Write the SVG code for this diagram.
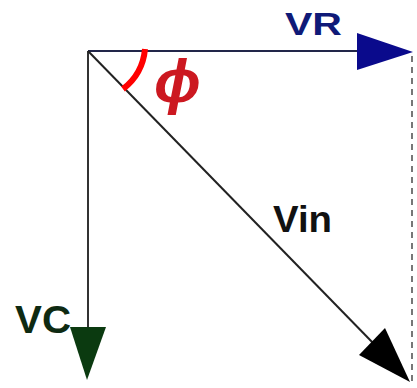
<svg xmlns="http://www.w3.org/2000/svg" width="417" height="388" viewBox="0 0 417 388">
<style>
.lbl{font-family:"Liberation Sans",Arial,sans-serif;font-weight:bold}
</style>
<rect width="417" height="388" fill="#ffffff"/>
<g id="connectors">
<line id="vr-line" x1="88" y1="51" x2="360" y2="51" stroke="#22264a" stroke-width="2"/>
<polygon id="vr-head" points="357,33 413,52 357,70" fill="#0a0a8c"/>
<line id="vc-line" x1="88" y1="51" x2="88" y2="330" stroke="#333" stroke-width="2"/>
<polygon id="vc-head" points="70,327 106,327 87,380" fill="#0b3a10"/>
<line id="vin-line" x1="88" y1="51" x2="375" y2="345" stroke="#222" stroke-width="2"/>
<polygon id="vin-head" points="385,328 359,355 410,382" fill="#000"/>
<line id="dash" x1="412" y1="56" x2="412" y2="386" stroke="#555" stroke-width="1.6" stroke-dasharray="6,5"/>
</g>
<g id="angle">
<path d="M145,49 A57,57 0 0 1 123,89" fill="none" stroke="#ff0000" stroke-width="6"/>
<text x="154" y="102" font-family="'Liberation Sans',Arial,sans-serif" font-style="italic" font-weight="bold" font-size="62" fill="#cc1820">ϕ</text>
</g>
<g id="VR"><text class="lbl" x="285" y="35" font-size="32" fill="#0f1a78" textLength="57" lengthAdjust="spacingAndGlyphs">VR</text></g>
<g id="VC"><text class="lbl" x="15" y="333" font-size="38" fill="#0e2a12" textLength="56" lengthAdjust="spacingAndGlyphs">VC</text></g>
<g id="Vin"><text class="lbl" x="273" y="232" font-size="37" fill="#111" textLength="59" lengthAdjust="spacingAndGlyphs">Vin</text></g>
</svg>
